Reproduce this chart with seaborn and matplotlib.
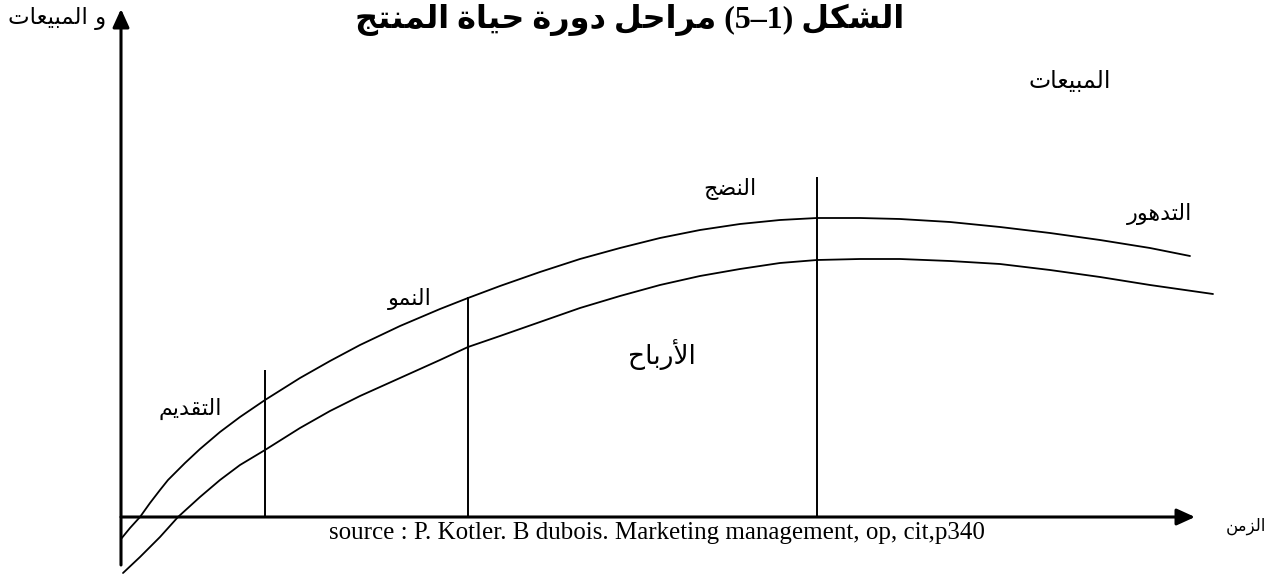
import matplotlib
matplotlib.use("Agg")
import matplotlib.pyplot as plt
import seaborn as sns
import pandas as pd

sns.set_theme(style="white")
plt.rcParams["font.family"] = ["DejaVu Sans"]
plt.rcParams["text.color"] = "black"

# ---------------- data ----------------
# time (horizontal units) and value (vertical units), origin where the two axes cross
sales_t = [0, 9, 19, 29, 39, 47, 64, 79, 99, 119, 144, 179, 209, 239, 279, 319, 347,
           379, 419, 459, 499, 539, 579, 619, 659, 696, 739, 779, 829, 879, 929, 979,
           1029, 1069]
sales_v = [-22, -11, 0, 14, 27, 37, 54, 68, 85, 100, 117, 139, 156, 172, 191, 208, 219,
           231, 245, 258, 269, 279, 287, 293, 297, 299, 299, 298, 295, 290, 284, 277,
           269, 261]
profit_t = [2, 19, 39, 57, 79, 99, 119, 144, 179, 209, 239, 279, 319, 347, 379, 419,
            459, 499, 539, 579, 619, 659, 696, 739, 779, 829, 879, 929, 979, 1029, 1092]
profit_v = [-56, -40, -20, 0, 20, 37, 52, 67, 89, 106, 121, 139, 157, 170, 181, 195,
            209, 221, 232, 241, 248, 254, 257, 258, 258, 256, 253, 247, 240, 232, 223]

# boundaries between the life-cycle stages and the height of each marker line
stage_t = [144, 347, 696]
stage_top = [147, 220, 340]

# Arabic labels (logical order)
title_txt = "الشكل (1–5) مراحل دورة حياة المنتج"
ylabel_txt = "و المبيعات"
xlabel_txt = "الزمن"
sales_txt = "المبيعات"
profit_txt = "الأرباح"
stage_names = ["التقديم", "النمو", "النضج", "التدهور"]
source_txt = "source : P. Kotler. B dubois. Marketing management, op, cit,p340"

# ---------------- minimal Arabic shaping ----------------
# (isolated, final, initial, medial); two-form letters do not join the next letter
FORMS = {
    "ء": ("\uFE80",),
    "آ": ("\uFE81", "\uFE82"), "أ": ("\uFE83", "\uFE84"),
    "إ": ("\uFE87", "\uFE88"), "ا": ("\uFE8D", "\uFE8E"),
    "ب": ("\uFE8F", "\uFE90", "\uFE91", "\uFE92"),
    "ة": ("\uFE93", "\uFE94"),
    "ت": ("\uFE95", "\uFE96", "\uFE97", "\uFE98"),
    "ث": ("\uFE99", "\uFE9A", "\uFE9B", "\uFE9C"),
    "ج": ("\uFE9D", "\uFE9E", "\uFE9F", "\uFEA0"),
    "ح": ("\uFEA1", "\uFEA2", "\uFEA3", "\uFEA4"),
    "خ": ("\uFEA5", "\uFEA6", "\uFEA7", "\uFEA8"),
    "د": ("\uFEA9", "\uFEAA"), "ذ": ("\uFEAB", "\uFEAC"),
    "ر": ("\uFEAD", "\uFEAE"), "ز": ("\uFEAF", "\uFEB0"),
    "س": ("\uFEB1", "\uFEB2", "\uFEB3", "\uFEB4"),
    "ش": ("\uFEB5", "\uFEB6", "\uFEB7", "\uFEB8"),
    "ص": ("\uFEB9", "\uFEBA", "\uFEBB", "\uFEBC"),
    "ض": ("\uFEBD", "\uFEBE", "\uFEBF", "\uFEC0"),
    "ط": ("\uFEC1", "\uFEC2", "\uFEC3", "\uFEC4"),
    "ظ": ("\uFEC5", "\uFEC6", "\uFEC7", "\uFEC8"),
    "ع": ("\uFEC9", "\uFECA", "\uFECB", "\uFECC"),
    "غ": ("\uFECD", "\uFECE", "\uFECF", "\uFED0"),
    "ف": ("\uFED1", "\uFED2", "\uFED3", "\uFED4"),
    "ق": ("\uFED5", "\uFED6", "\uFED7", "\uFED8"),
    "ك": ("\uFED9", "\uFEDA", "\uFEDB", "\uFEDC"),
    "ل": ("\uFEDD", "\uFEDE", "\uFEDF", "\uFEE0"),
    "م": ("\uFEE1", "\uFEE2", "\uFEE3", "\uFEE4"),
    "ن": ("\uFEE5", "\uFEE6", "\uFEE7", "\uFEE8"),
    "ه": ("\uFEE9", "\uFEEA", "\uFEEB", "\uFEEC"),
    "و": ("\uFEED", "\uFEEE"), "ى": ("\uFEEF", "\uFEF0"),
    "ي": ("\uFEF1", "\uFEF2", "\uFEF3", "\uFEF4"),
}
LAM_ALEF = {"آ": ("\uFEF5", "\uFEF6"), "أ": ("\uFEF7", "\uFEF8"),
            "إ": ("\uFEF9", "\uFEFA"), "ا": ("\uFEFB", "\uFEFC")}
MIRROR = {"(": ")", ")": "("}


def joins_next(c):
    return c in FORMS and len(FORMS[c]) == 4


def rtl(text):
    """Pick contextual letter forms and return the string in display order."""
    out = []
    i, n = 0, len(text)
    while i < n:
        c = text[i]
        prev = text[i - 1] if i > 0 else ""
        nxt = text[i + 1] if i + 1 < n else ""
        linked_prev = joins_next(prev)
        if c == "ل" and nxt in LAM_ALEF:
            out.append(LAM_ALEF[nxt][1 if linked_prev else 0])
            i += 2
            continue
        if c in FORMS:
            f = FORMS[c]
            linked_next = joins_next(c) and nxt in FORMS
            if len(f) == 1:
                g = f[0]
            elif linked_prev and linked_next:
                g = f[3]
            elif linked_next:
                g = f[2]
            elif linked_prev:
                g = f[1]
            else:
                g = f[0]
            out.append(g)
        else:
            out.append(MIRROR.get(c, c))
        i += 1
    return "".join(reversed(out))


# ---------------- figure ----------------
fig = plt.figure(figsize=(12.71, 5.74), dpi=100)
ax = fig.add_axes([0, 0, 1, 1])
ax.set_xlim(-121, 1150)
ax.set_ylim(-57, 517)
ax.axis("off")

curves = pd.concat([
    pd.DataFrame({"t": sales_t, "v": sales_v, "curve": "sales"}),
    pd.DataFrame({"t": profit_t, "v": profit_v, "curve": "profit"}),
])
sns.lineplot(data=curves, x="t", y="v", units="curve", estimator=None,
             sort=False, color="black", linewidth=1.3, ax=ax)

ax.vlines(stage_t, 0, stage_top, color="black", linewidth=1.4)

# axes with arrow heads
arrow = dict(arrowstyle="-|>,head_length=11,head_width=5", mutation_scale=1,
             color="black", linewidth=2.2, shrinkA=0, shrinkB=0)
ax.annotate("", xy=(0, 508), xytext=(0, -48), arrowprops=arrow)
ax.annotate("", xy=(1074, 0), xytext=(0, 0), arrowprops=arrow)

ar = "DejaVu Sans"
ax.text(-64, 499, rtl(ylabel_txt), family=ar, fontsize=16.5, ha="center", va="center")
ax.text(1125, -9, rtl(xlabel_txt), family=ar, fontsize=12, ha="center", va="center")
ax.text(509, 497, rtl(title_txt), family=["Liberation Serif", ar], fontsize=23,
        fontweight="bold", ha="center", va="center")
ax.text(949, 436, rtl(sales_txt), family=ar, fontsize=17, ha="center", va="center")
ax.text(541, 162, rtl(profit_txt), family=ar, fontsize=19, ha="center", va="center")

stage_pos = [(69, 108), (289, 218), (609, 328), (1039, 303)]
for name, (tx, ty) in zip(stage_names, stage_pos):
    ax.text(tx, ty, rtl(name), family=ar, fontsize=16, ha="center", va="center")

ax.text(536, -16, source_txt, family="Liberation Serif", fontsize=18,
        ha="center", va="center")

fig.savefig("out.png", dpi=100)
